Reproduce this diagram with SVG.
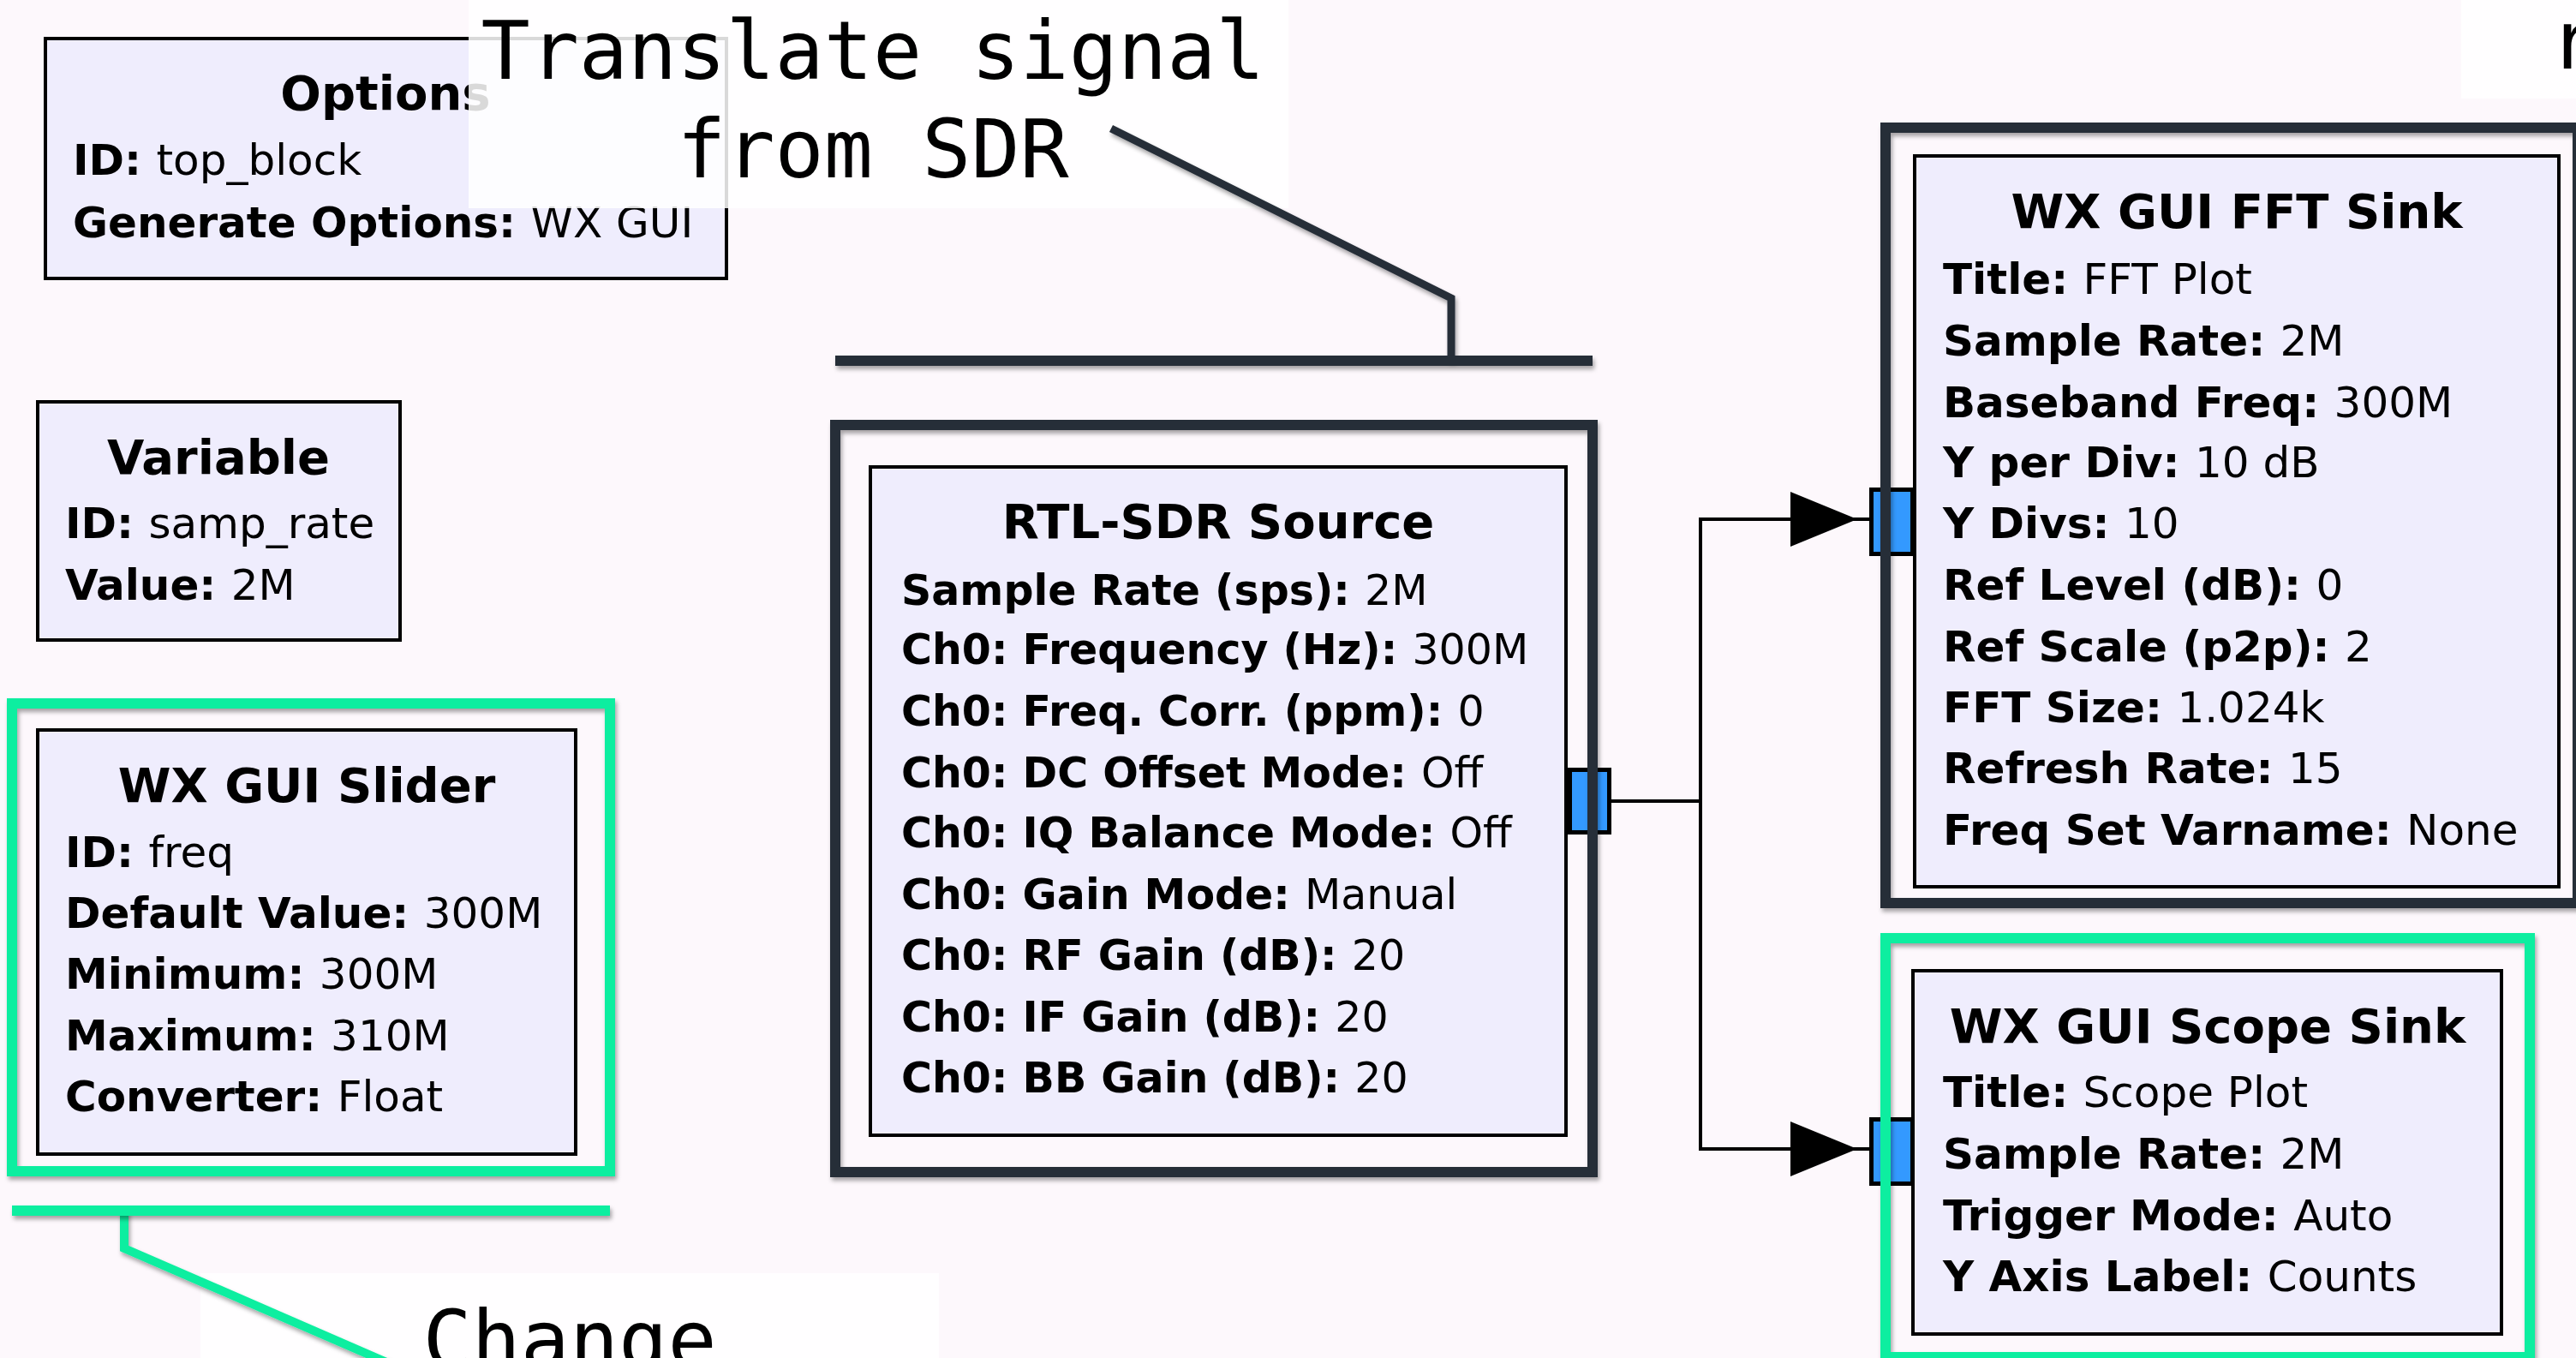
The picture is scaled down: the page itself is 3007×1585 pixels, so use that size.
<svg xmlns="http://www.w3.org/2000/svg" width="3007" height="1585" viewBox="0 0 3007 1585">
<defs>
<filter id="sh" filterUnits="userSpaceOnUse" x="-100" y="-100" width="3300" height="1900">
<feDropShadow dx="2" dy="4" stdDeviation="2.5" flood-color="#000" flood-opacity="0.35"/>
</filter>
<style>
.bg{fill:#fdf8fc}
.box{fill:#efedfd;stroke:#000;stroke-width:4}
.frame{fill:none;stroke:#262f39;stroke-width:12;filter:url(#sh)}
.sel{fill:none;stroke:#10eea0;stroke-width:12;filter:url(#sh)}
.port{fill:#3399ff;stroke:#000;stroke-width:5}
.t{font-family:"DejaVu Sans",sans-serif;font-weight:bold;font-size:56px;fill:#000;text-anchor:middle}
.p{font-family:"DejaVu Sans",sans-serif;font-size:50px;fill:#000}
.r{font-size:49px}
.k{font-weight:bold}
.wire{fill:none;stroke:#000;stroke-width:4}
.arrow{fill:#000}
.note{fill:#fff;fill-opacity:0.85}
.nt{font-family:"DejaVu Sans Mono",monospace;font-size:95px;fill:#000}
.lead{fill:none;stroke-linecap:butt;stroke-linejoin:miter;filter:url(#sh)}
.dark{stroke:#262f39}
.green{stroke:#10eea0}
</style>
</defs>
<rect class="bg" x="0" y="0" width="3007" height="1585"/>

<g id="options">
<rect class="box" x="53" y="45" width="795" height="280"/>
<text class="t" x="450" y="128">Options</text>
<text class="p" x="85" y="204"><tspan class="k">ID: </tspan>top_block</text>
<text class="p" x="85" y="277"><tspan class="k">Generate Options: </tspan>WX GUI</text>
</g>

<g id="variable">
<rect class="box" x="44" y="469" width="423" height="278"/>
<text class="t" x="255" y="553">Variable</text>
<text class="p" x="76" y="628"><tspan class="k">ID: </tspan>samp_rate</text>
<text class="p" x="76" y="700"><tspan class="k">Value: </tspan>2M</text>
</g>

<g id="slider">
<rect class="box" x="44" y="852" width="628" height="495"/>
<text class="t" x="358" y="936">WX GUI Slider</text>
<text class="p" x="76" y="1012"><tspan class="k">ID: </tspan>freq</text>
<text class="p" x="76" y="1083"><tspan class="k">Default Value: </tspan>300M</text>
<text class="p" x="76" y="1154"><tspan class="k">Minimum: </tspan>300M</text>
<text class="p" x="76" y="1226"><tspan class="k">Maximum: </tspan>310M</text>
<text class="p" x="76" y="1297"><tspan class="k">Converter: </tspan>Float</text>
<rect class="sel" x="14" y="821" width="698" height="546"/>
</g>

<g id="rtlsdr">
<rect class="box" x="1016" y="545" width="812" height="780"/>
<text class="t" x="1422" y="628">RTL-SDR Source</text>
<text class="p r" x="1052" y="706"><tspan class="k">Sample Rate (sps): </tspan>2M</text>
<text class="p r" x="1052" y="775"><tspan class="k">Ch0: Frequency (Hz): </tspan>300M</text>
<text class="p r" x="1052" y="847"><tspan class="k">Ch0: Freq. Corr. (ppm): </tspan>0</text>
<text class="p r" x="1052" y="919"><tspan class="k">Ch0: DC Offset Mode: </tspan>Off</text>
<text class="p r" x="1052" y="989"><tspan class="k">Ch0: IQ Balance Mode: </tspan>Off</text>
<text class="p r" x="1052" y="1061"><tspan class="k">Ch0: Gain Mode: </tspan>Manual</text>
<text class="p r" x="1052" y="1132"><tspan class="k">Ch0: RF Gain (dB): </tspan>20</text>
<text class="p r" x="1052" y="1204"><tspan class="k">Ch0: IF Gain (dB): </tspan>20</text>
<text class="p r" x="1052" y="1275"><tspan class="k">Ch0: BB Gain (dB): </tspan>20</text>
<rect class="port" x="1832.5" y="898.5" width="46" height="73"/>
<rect class="frame" x="975" y="496" width="884" height="872"/>
</g>

<g id="fftsink">
<rect class="box" x="2235" y="182" width="752" height="853"/>
<text class="t" x="2611" y="266">WX GUI FFT Sink</text>
<text class="p" x="2268" y="343"><tspan class="k">Title: </tspan>FFT Plot</text>
<text class="p" x="2268" y="415"><tspan class="k">Sample Rate: </tspan>2M</text>
<text class="p" x="2268" y="487"><tspan class="k">Baseband Freq: </tspan>300M</text>
<text class="p" x="2268" y="557"><tspan class="k">Y per Div: </tspan>10 dB</text>
<text class="p" x="2268" y="628"><tspan class="k">Y Divs: </tspan>10</text>
<text class="p" x="2268" y="700"><tspan class="k">Ref Level (dB): </tspan>0</text>
<text class="p" x="2268" y="772"><tspan class="k">Ref Scale (p2p): </tspan>2</text>
<text class="p" x="2268" y="843"><tspan class="k">FFT Size: </tspan>1.024k</text>
<text class="p" x="2268" y="914"><tspan class="k">Refresh Rate: </tspan>15</text>
<text class="p" x="2268" y="986"><tspan class="k">Freq Set Varname: </tspan>None</text>
<rect class="port" x="2184.5" y="571.5" width="48" height="75"/>
<rect class="frame" x="2201" y="149" width="808" height="905"/>
</g>

<g id="scopesink">
<rect class="box" x="2233" y="1133" width="687" height="424"/>
<text class="t" x="2577" y="1217">WX GUI Scope Sink</text>
<text class="p" x="2268" y="1292"><tspan class="k">Title: </tspan>Scope Plot</text>
<text class="p" x="2268" y="1364"><tspan class="k">Sample Rate: </tspan>2M</text>
<text class="p" x="2268" y="1436"><tspan class="k">Trigger Mode: </tspan>Auto</text>
<text class="p" x="2268" y="1507"><tspan class="k">Y Axis Label: </tspan>Counts</text>
<rect class="port" x="2184.5" y="1306.5" width="48" height="75"/>
<rect class="sel" x="2201" y="1095" width="752" height="489"/>
</g>

<g id="connectors">
<path class="wire" d="M1881,935 H1985 V606 H2182"/>
<polygon class="arrow" points="2090,574 2168,606 2090,638"/>
<path class="wire" d="M1985,935 V1341 H2182"/>
<polygon class="arrow" points="2090,1309 2168,1341 2090,1373"/>
</g>

<g id="note-translate">
<rect class="note" x="547" y="-10" width="957" height="253"/>
<text class="nt" x="1019" y="92" text-anchor="middle">Translate signal</text>
<text class="nt" x="1019" y="207" text-anchor="middle">from SDR</text>
<path class="lead dark" stroke-width="9" d="M1297,150 L1694,348 V421"/>
<path class="lead dark" stroke-width="12" d="M975,421 H1859"/>
</g>

<g id="note-change">
<rect class="note" x="234" y="1486" width="862" height="120"/>
<text class="nt" x="665" y="1597" text-anchor="middle">Change</text>
<path class="lead green" stroke-width="10" d="M145,1413 V1457 L456,1592"/>
<path class="lead green" stroke-width="12" d="M14,1413 H712"/>
</g>

<g id="note-right">
<rect class="note" x="2873" y="-10" width="200" height="125"/>
<text class="nt" x="2976" y="80">r</text>
</g>
</svg>
